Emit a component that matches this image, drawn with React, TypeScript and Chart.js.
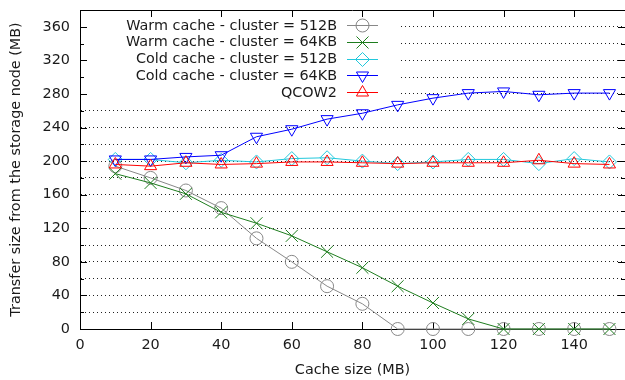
import React, { useEffect, useRef } from 'react';
import { Chart, registerables, PointElement } from 'chart.js';

Chart.register(...registerables);

// ---- data ----
const cacheSizes = [10, 20, 30, 40, 50, 60, 70, 80, 90, 100, 110, 120, 130, 140, 150];
const warm512 = [194, 180, 165, 144, 108, 80, 51, 30, 0, 0, 0, 0, 0, 0, 0];
const warm64k = [185, 174, 161, 139, 126, 111, 92, 73, 51, 31, 12, 0, 0, 0, 0];
const cold512 = [202, 202, 198, 201, 199, 203, 204, 200, 197, 199, 202, 202, 197, 203, 199];
const cold64k = [202, 202, 205, 207, 229, 238, 250, 257, 267, 275, 281, 283, 279, 281, 281];
const qcow2 = [196, 194, 198, 196, 197, 199, 199, 198, 197, 198, 198, 198, 201, 197, 196];

const seriesLabels = [
  'Warm cache - cluster = 512B',
  'Warm cache - cluster = 64KB',
  'Cold cache - cluster = 512B',
  'Cold cache - cluster = 64KB',
  'QCOW2',
];
const seriesValues = [warm512, warm64k, cold512, cold64k, qcow2];

const xTitle = 'Cache size (MB)';
const yTitle = 'Transfer size from the storage node (MB)';
const xMin = 0;
const xMax = 154.4;
const xStep = 20;
const yMin = 0;
const yMax = 380;
const yStep = 20;
const yLabelStep = 40;

// ---- styles ----
const seriesStyles = [
  { color: '#888888', pointStyle: 'circle', radius: 6.5, rotation: 0 },
  { color: '#1e7d1e', pointStyle: 'crossRot', radius: 8.5, rotation: 0 },
  { color: '#22c8dc', pointStyle: 'rectRot', radius: 7, rotation: 0 },
  { color: '#0000ff', pointStyle: 'triangle', radius: 7, rotation: 180 },
  { color: '#ff0000', pointStyle: 'triangle', radius: 7, rotation: 0 },
];

const TEXT = '#1a1a1a';
const FONT_SIZE = 14.4;

const framePlugin = {
  id: 'gnuplotFrame',
  beforeDatasetsDraw(chart: any) {
    const { ctx, chartArea, scales } = chart;
    const { left, right, top, bottom } = chartArea;
    const x = scales.x;
    const y = scales.y;
    ctx.save();
    // key area hides the grid behind it
    ctx.fillStyle = '#fff';
    ctx.fillRect(left + 1, top + 1, 399 - left, 101 - top);
    ctx.strokeStyle = '#000';
    ctx.lineWidth = 1;
    ctx.setLineDash([]);
    ctx.beginPath();
    ctx.moveTo(left, Math.round(top) + 0.5);
    ctx.lineTo(right, Math.round(top) + 0.5);
    x.ticks.forEach((t: any) => {
      if (t.value === xMin) return;
      const px = Math.round(x.getPixelForValue(t.value)) + 0.5;
      ctx.moveTo(px, bottom);
      ctx.lineTo(px, bottom - 7);
      ctx.moveTo(px, top);
      ctx.lineTo(px, top + 7);
    });
    y.ticks.forEach((t: any) => {
      if (t.value === yMin || t.value === yMax) return;
      const py = Math.round(y.getPixelForValue(t.value)) + 0.5;
      const len = t.value % yLabelStep === 0 ? 7 : 4;
      ctx.moveTo(left, py);
      ctx.lineTo(left + len, py);
      ctx.moveTo(right, py);
      ctx.lineTo(right - len, py);
    });
    ctx.stroke();
    ctx.restore();
  },
  afterDatasetsDraw(chart: any) {
    const { ctx } = chart;
    const textRight = 337;
    const lineX1 = 347;
    const lineX2 = 378;
    const markX = 362.5;
    const rowY0 = 25;
    const rowH = 16.75;
    seriesLabels.forEach((label, i) => {
      const ry = rowY0 + i * rowH;
      const st = seriesStyles[i];
      ctx.save();
      ctx.font = `${FONT_SIZE}px 'DejaVu Sans', sans-serif`;
      ctx.fillStyle = TEXT;
      ctx.textAlign = 'right';
      ctx.textBaseline = 'middle';
      ctx.fillText(label, textRight, ry + 1);
      const ly = Math.round(ry) + 0.5;
      ctx.strokeStyle = st.color;
      ctx.lineWidth = 1;
      ctx.setLineDash([]);
      ctx.beginPath();
      ctx.moveTo(lineX1, ly);
      ctx.lineTo(lineX2, ly);
      ctx.stroke();
      ctx.restore();
      ctx.save();
      const pe: any = new (PointElement as any)({});
      pe.x = markX;
      pe.y = ly;
      pe.options = {
        pointStyle: st.pointStyle,
        radius: st.radius,
        rotation: st.rotation,
        borderWidth: 1,
        borderColor: st.color,
        backgroundColor: 'rgba(0,0,0,0)',
        hitRadius: 0,
        hoverRadius: 0,
      };
      pe.draw(ctx);
      ctx.restore();
    });
  },
};

export default function App() {
  const ref = useRef<HTMLCanvasElement | null>(null);

  useEffect(() => {
    if (!ref.current) return;
    Chart.defaults.font.family = "'DejaVu Sans', sans-serif";
    Chart.defaults.font.size = FONT_SIZE;
    Chart.defaults.color = TEXT;

    const datasets = seriesValues.map((vals, i) => {
      const st = seriesStyles[i];
      return {
        label: seriesLabels[i],
        data: cacheSizes.map((c, j) => ({ x: c, y: vals[j] })),
        borderColor: st.color,
        backgroundColor: 'rgba(0,0,0,0)',
        borderWidth: 1,
        pointStyle: st.pointStyle,
        pointRadius: st.radius,
        pointRotation: st.rotation,
        pointBorderWidth: 1,
        pointBorderColor: st.color,
        pointBackgroundColor: 'rgba(0,0,0,0)',
        tension: 0,
        fill: false,
        clip: false,
        order: seriesLabels.length - i,
      };
    });

    const chart = new Chart(ref.current, {
      type: 'line',
      data: { datasets } as any,
      plugins: [framePlugin as any],
      options: {
        responsive: false,
        animation: false,
        devicePixelRatio: 1,
        events: [],
        layout: { autoPadding: false, padding: { top: 10, right: 0, bottom: 0, left: 0 } },
        plugins: {
          legend: { display: false },
          tooltip: { enabled: false },
          title: { display: false },
        },
        scales: {
          x: {
            type: 'linear',
            min: xMin,
            max: xMax,
            afterFit: (s: any) => {
              s.height = 51;
              s.paddingLeft = 0;
              s.paddingRight = 0;
            },
            grid: { display: false, drawTicks: false },
            border: { display: true, color: '#000', width: 1 },
            ticks: {
              stepSize: xStep,
              includeBounds: false,
              padding: 8,
              maxRotation: 0,
              autoSkip: false,
              color: TEXT,
              font: { size: FONT_SIZE },
            },
            title: {
              display: true,
              text: xTitle,
              color: TEXT,
              font: { size: FONT_SIZE },
              padding: { top: 2, bottom: 1 },
            },
          },
          y: {
            type: 'linear',
            min: yMin,
            max: yMax,
            afterFit: (s: any) => {
              s.width = 80;
              s.paddingTop = 0;
              s.paddingBottom = 0;
            },
            grid: {
              display: true,
              drawTicks: false,
              color: '#222',
              lineWidth: (c: any) =>
                c.tick && (c.tick.value === yMin || c.tick.value === yMax) ? 0 : 1,
            },
            border: { display: true, color: '#000', width: 1, dash: [1, 3] },
            ticks: {
              stepSize: yStep,
              includeBounds: false,
              padding: 10,
              autoSkip: false,
              color: TEXT,
              font: { size: FONT_SIZE },
              callback: (v: any) =>
                Number(v) % yLabelStep === 0 && Number(v) < yMax ? String(v) : '',
            },
            title: {
              display: true,
              text: yTitle,
              color: TEXT,
              font: { size: FONT_SIZE },
              padding: { top: 8, bottom: 0 },
            },
          },
        },
      } as any,
    });
    return () => chart.destroy();
  }, []);

  return (
    <div style={{ position: 'absolute', left: 0, top: 0, width: 625, height: 380, background: '#fff' }}>
      <canvas ref={ref} width={625} height={380} style={{ display: 'block' }} />
    </div>
  );
}
